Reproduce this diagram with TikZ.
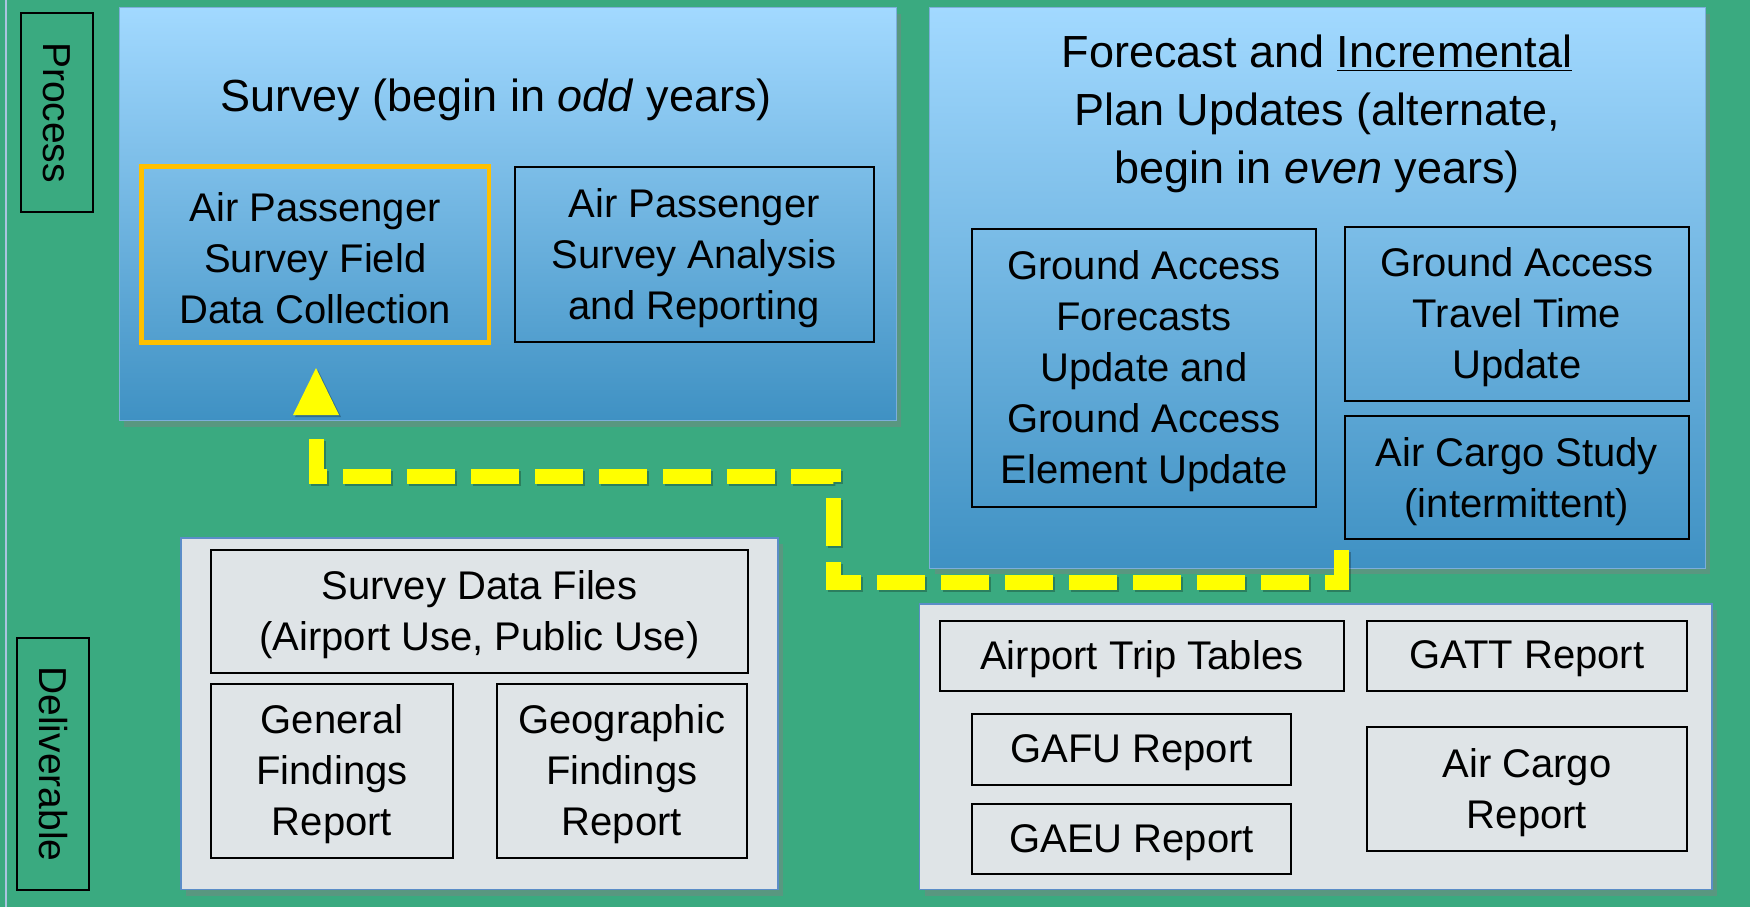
\documentclass[tikz,border=0pt]{standalone}
\usepackage{fontspec}
\setmainfont{Liberation Sans}
\usetikzlibrary{shadows,fit}
\definecolor{bggreen}{HTML}{3AAA80}
\definecolor{ptop}{HTML}{A2D9FF}
\definecolor{pbot}{HTML}{3F91C3}
\definecolor{dgray}{HTML}{DFE4E7}
\definecolor{dborder}{HTML}{5B8DC8}
\definecolor{orng}{HTML}{FFC000}
\definecolor{ylw}{HTML}{FFFF00}
\definecolor{pborder}{HTML}{7DAEDB}
\definecolor{edgeline}{HTML}{A9C4E0}
\tikzset{
  x=0.5pt, y=-0.5pt,
  panel/.style={fit={#1}, inner sep=0pt, top color=ptop, bottom color=pbot, draw=pborder, line width=0.5pt,
    drop shadow={shadow xshift=2.5pt, shadow yshift=-3pt, opacity=0.45}},
  dpanel/.style={fit={#1}, inner sep=0pt, fill=dgray, draw=dborder, line width=0.75pt,
    drop shadow={shadow xshift=2.5pt, shadow yshift=-3pt, opacity=0.45}},
  ibox/.style={fit={#1}, inner sep=0pt, draw=black, line width=1pt},
  obox/.style={ibox={#1}, draw=orng, line width=2.25pt},
  btext/.style={align=center, inner sep=0pt, yshift=-1.75pt, font=\fontsize{20}{25.5}\selectfont},
  sidebox/.style={fit={#1}, inner sep=0pt, draw=black, line width=1pt},
  sidetext/.style={rotate=-90, font=\fontsize{19.5}{24}\selectfont},
  ptitle/.style={align=center, font=\fontsize{22.5}{29}\selectfont},
  ydash/.style={draw=ylw, line width=7.5pt, dash pattern=on 24pt off 8pt},
}
\begin{document}
\begin{tikzpicture}
\useasboundingbox (0,0) rectangle (1750,907);
\fill[bggreen] (0,0) rectangle (1750,907);
\draw[edgeline, line width=1pt] (6,0) -- (6,907);

% side labels
\node[sidebox={(21,13)(93,212)}] (process) {};
\node[sidetext] (ptext) at (process.center) {Process};
\node[sidebox={(17,638)(89,890)}] (deliv) {};
\node[sidetext] (dtext) at (deliv.center) {Deliverable};

% panels
\node[panel={(119.4,7.8)(896,420.8)}] (survey) {};
\node[panel={(929.7,7.8)(1705.4,568)}] (forecast) {};
\node[dpanel={(180.8,538)(778,889.5)}] (sdeliv) {};
\node[dpanel={(919.7,603.8)(1712,889.5)}] (fdeliv) {};

% titles
\node[ptitle] (stitle) at (496,100) {Survey (begin in \textit{odd} years)};
\node[ptitle] (ftitle) at (1317,113.5) {Forecast and \underline{Incremental}\\Plan Updates (alternate,\\begin in \textit{even} years)};

% process boxes
\node[obox={(141.7,166.3)(488.8,342.6)}] (field) {};
\node[btext] (field-t) at (field.center) {Air Passenger\\Survey Field\\Data Collection};
\node[ibox={(514.5,167.4)(873.9,341.5)}] (analysis) {};
\node[btext] (analysis-t) at (analysis.center) {Air Passenger\\Survey Analysis\\and Reporting};
\node[ibox={(972,228.8)(1315.9,506.7)}] (gaf) {};
\node[btext] (gaf-t) at (gaf.center) {Ground Access\\Forecasts\\Update and\\Ground Access\\Element Update};
\node[ibox={(1344.9,226.6)(1688.7,400.7)}] (gatt) {};
\node[btext] (gatt-t) at (gatt.center) {Ground Access\\Travel Time\\Update};
\node[ibox={(1344.9,416.3)(1688.7,539)}] (cargo) {};
\node[btext] (cargo-t) at (cargo.center) {Air Cargo Study\\(intermittent)};

% deliverables
\node[ibox={(211,550)(747.8,673)}] (sdf) {};
\node[btext] (sdf-t) at (sdf.center) {Survey Data Files\\(Airport Use, Public Use)};
\node[ibox={(211,684)(453,858)}] (gen) {};
\node[btext] (gen-t) at (gen.center) {General\\Findings\\Report};
\node[ibox={(496.7,684)(746.7,858)}] (geo) {};
\node[btext] (geo-t) at (geo.center) {Geographic\\Findings\\Report};
\node[ibox={(939.8,620.5)(1343.8,690.8)}] (att) {};
\node[btext] (att-t) at (att.center) {Airport Trip Tables};
\node[ibox={(1367,620.5)(1687,690.8)}] (gattr) {};
\node[btext] (gattr-t) at (gattr.center) {GATT Report};
\node[ibox={(972,714)(1291,784.6)}] (gafu) {};
\node[btext] (gafu-t) at (gafu.center) {GAFU Report};
\node[ibox={(972,803.6)(1291,874)}] (gaeu) {};
\node[btext] (gaeu-t) at (gaeu.center) {GAEU Report};
\node[ibox={(1367,727)(1687,850.7)}] (acr) {};
\node[btext] (acr-t) at (acr.center) {Air Cargo\\Report};

% connector
\coordinate (c0) at (1341,550);
\coordinate (c1) at (316,430);
\coordinate (tip) at (316,368);
\begin{scope}[transform canvas={xshift=1pt,yshift=-1pt}]
\draw[ydash, draw=black, opacity=0.25] (c0) -- (1341,582) -- (833,582) -- (833,476) -- (316,476) -- (c1);
\fill[black, opacity=0.25] (tip) -- ++(-23,47) -- ++(46,0) -- cycle;
\end{scope}
\draw[ydash] (c0) -- (1341,582) -- (833,582) -- (833,476) -- (316,476) -- (c1);
\fill[ylw] (tip) -- ++(-23,47) -- ++(46,0) -- cycle;
\end{tikzpicture}
\end{document}
